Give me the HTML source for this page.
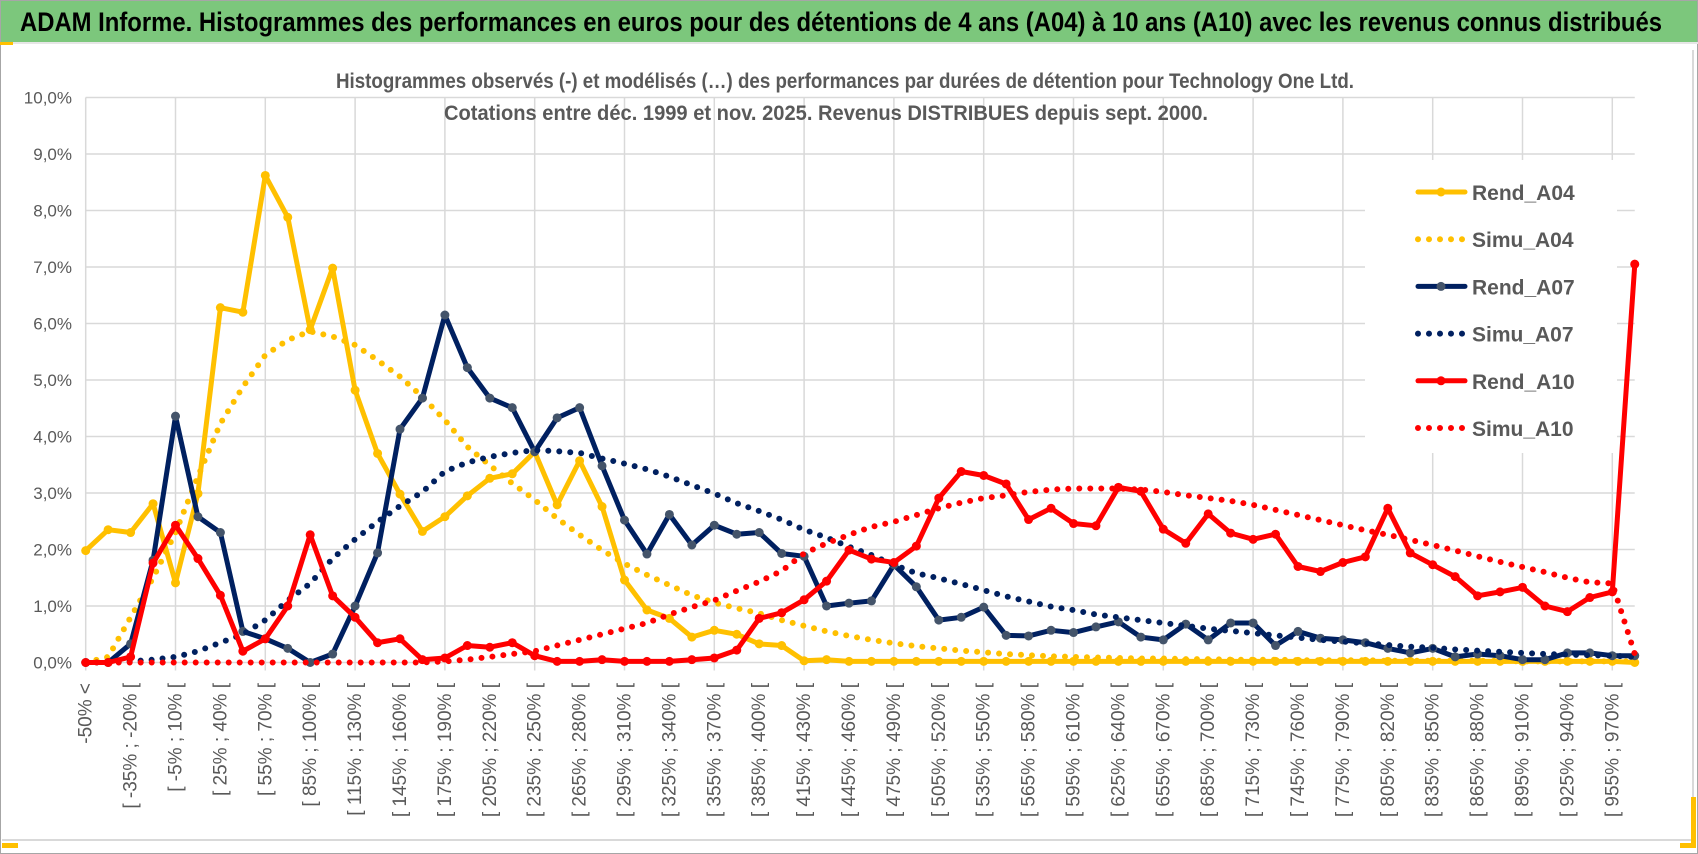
<!DOCTYPE html>
<html><head><meta charset="utf-8"><title>ADAM Informe</title>
<style>
html,body{margin:0;padding:0;background:#fff;}
svg{display:block;}
text{font-family:"Liberation Sans Narrow","Liberation Sans",sans-serif;}
</style></head>
<body>
<svg id="chart" width="1698" height="854" viewBox="0 0 1698 854" xmlns="http://www.w3.org/2000/svg">
  <rect x="0" y="0" width="1698" height="854" fill="#fff"/>
  <rect x="0.5" y="0.5" width="1697" height="853" fill="none" stroke="#a6a6a6"/>
  <rect x="1" y="1" width="1696" height="42" fill="#7cc77c"/>
  <line x1="0" y1="43" x2="1698" y2="43" stroke="#e6e6e6" stroke-width="2"/>
  <rect x="0" y="42" width="13" height="3" fill="#ffc000"/>
  <text x="20" y="31" font-size="27" font-weight="bold" fill="#000" textLength="1642" lengthAdjust="spacingAndGlyphs">ADAM Informe. Histogrammes des performances en euros pour des détentions de 4 ans (A04) à 10 ans (A10) avec les revenus connus distribués</text>
  <line x1="2" y1="840" x2="1693" y2="840" stroke="#d9d9d9" stroke-width="2"/>
  <line x1="1693" y1="50" x2="1693" y2="840" stroke="#d9d9d9" stroke-width="2"/>
  <rect x="2" y="843" width="16" height="5" fill="#ffc000"/>
  <rect x="1680" y="843" width="16" height="5" fill="#ffc000"/>
  <rect x="1691" y="797" width="5" height="50" fill="#ffc000"/>
  <g id="grid"></g>
  <g id="yaxis"></g>
  <g id="xaxis"></g>
  <g id="series"></g>
  <text x="845" y="88" font-size="21" font-weight="bold" fill="#595959" text-anchor="middle" textLength="1018" lengthAdjust="spacingAndGlyphs">Histogrammes observés (-) et modélisés (…) des performances par durées de détention pour Technology One Ltd.</text>
  <text x="826" y="120" font-size="21" font-weight="bold" fill="#595959" text-anchor="middle" textLength="764" lengthAdjust="spacingAndGlyphs">Cotations entre déc. 1999 et nov. 2025. Revenus DISTRIBUES depuis sept. 2000.</text>
  <rect x="1365" y="160" width="252" height="293" fill="#fff"/>
  <g id="legend"></g>
</svg>
<script>
const categories = (function(){ const c=["-50% <"]; for(let k=1;k<=68;k++){const a=-50+15*(k-1); c.push("[ "+a+"% ; "+(a+15)+"% [");} c.push("970% >="); return c; })();
const yTicks = [0,1,2,3,4,5,6,7,8,9,10];
const yTickLabels = ["0,0%","1,0%","2,0%","3,0%","4,0%","5,0%","6,0%","7,0%","8,0%","9,0%","10,0%"];
const seriesNames = ["Rend_A04","Simu_A04","Rend_A07","Simu_A07","Rend_A10","Simu_A10"];
const rendA04 = [1.98,2.35,2.30,2.81,1.41,2.99,6.28,6.20,8.62,7.88,5.89,6.98,4.82,3.70,2.98,2.32,2.58,2.95,3.26,3.34,3.73,2.79,3.57,2.76,1.46,0.93,0.78,0.45,0.57,0.50,0.33,0.30,0.03,0.05,0.02,0.02,0.02,0.02,0.02,0.02,0.02,0.02,0.02,0.02,0.02,0.02,0.02,0.02,0.02,0.02,0.02,0.02,0.02,0.02,0.02,0.02,0.02,0.02,0.02,0.02,0.02,0.02,0.02,0.02,0.02,0.02,0.02,0.02,0.02,0.0];
const simuA04 = [0,0.1,0.8,1.5,2.3,3.29,4.23,4.88,5.44,5.71,5.86,5.77,5.62,5.35,5.06,4.70,4.29,3.82,3.49,3.17,2.88,2.55,2.26,1.99,1.75,1.55,1.37,1.19,1.06,0.96,0.87,0.75,0.65,0.55,0.47,0.40,0.34,0.29,0.25,0.21,0.18,0.15,0.13,0.11,0.10,0.09,0.08,0.07,0.07,0.06,0.06,0.05,0.05,0.05,0.04,0.04,0.04,0.04,0.03,0.03,0.03,0.03,0.03,0.03,0.02,0.02,0.02,0.02,0.02,0.02];
const rendA07 = [0,0,0.33,1.81,4.36,2.58,2.30,0.55,0.42,0.25,0.0,0.15,1.0,1.94,4.13,4.68,6.15,5.22,4.68,4.51,3.73,4.33,4.51,3.48,2.52,1.92,2.62,2.08,2.43,2.27,2.30,1.93,1.88,1.0,1.05,1.09,1.73,1.34,0.75,0.80,0.98,0.48,0.47,0.57,0.53,0.63,0.72,0.45,0.4,0.68,0.4,0.7,0.7,0.3,0.55,0.43,0.4,0.35,0.25,0.17,0.25,0.1,0.15,0.12,0.05,0.05,0.17,0.17,0.12,0.12];
const simuA07 = [0,0,0.02,0.05,0.1,0.2,0.35,0.5,0.75,1.1,1.4,1.84,2.18,2.49,2.77,3.02,3.38,3.54,3.64,3.71,3.76,3.74,3.71,3.61,3.52,3.42,3.29,3.14,2.99,2.82,2.68,2.53,2.35,2.21,2.05,1.90,1.73,1.58,1.49,1.39,1.28,1.17,1.08,0.99,0.93,0.85,0.80,0.75,0.70,0.65,0.60,0.56,0.52,0.48,0.44,0.40,0.37,0.34,0.31,0.28,0.26,0.23,0.21,0.19,0.17,0.15,0.14,0.13,0.12,0.10];
const rendA10 = [0,0,0.1,1.76,2.43,1.84,1.19,0.2,0.42,1.0,2.26,1.18,0.80,0.35,0.42,0.05,0.08,0.3,0.27,0.35,0.12,0.02,0.02,0.05,0.02,0.02,0.02,0.05,0.08,0.22,0.78,0.88,1.11,1.44,1.99,1.83,1.77,2.06,2.91,3.38,3.31,3.16,2.53,2.73,2.46,2.42,3.10,3.03,2.36,2.11,2.63,2.29,2.18,2.27,1.70,1.61,1.77,1.87,2.73,1.94,1.73,1.52,1.18,1.25,1.33,1.0,0.9,1.15,1.25,7.05];
const simuA10 = [0,0,0,0,0,0,0,0,0,0,0,0,0,0,0,0,0.02,0.05,0.1,0.15,0.2,0.3,0.4,0.5,0.6,0.7,0.85,0.98,1.1,1.27,1.43,1.62,1.93,2.11,2.26,2.40,2.49,2.61,2.73,2.83,2.91,2.96,3.02,3.06,3.08,3.08,3.08,3.06,3.02,2.96,2.91,2.86,2.79,2.70,2.61,2.52,2.43,2.34,2.26,2.17,2.08,1.98,1.88,1.78,1.69,1.6,1.5,1.42,1.40,0.15];

const NS="http://www.w3.org/2000/svg";
const X0=85.7, DX=22.45, Y0=662.5, DY=56.5;
function xScale(i){return X0+DX*i;}
function yScale(v){return Y0-DY*v;}
function mk(tag,attrs,parent){const e=document.createElementNS(NS,tag);for(const k in attrs)e.setAttribute(k,attrs[k]);parent.appendChild(e);return e;}

const grid=document.getElementById('grid');
yTicks.forEach((t,i)=>{
  const l=mk('line',{x1:xScale(0),x2:xScale(categories.length-1),y1:yScale(t),y2:yScale(t),stroke:'#d9d9d9','stroke-width':1.5},grid);
  
  
});
for(let i=0;i<categories.length;i+=4){
  const l=mk('line',{x1:xScale(i),x2:xScale(i),y1:yScale(10),y2:Y0+8,stroke:'#d9d9d9','stroke-width':1.5},grid);
  
  
}
const yaxis=document.getElementById('yaxis');
yTicks.forEach((t,i)=>{
  const tx=mk('text',{x:72,y:yScale(t)+6,'font-size':17,fill:'#595959','text-anchor':'end'},yaxis);
  tx.textContent=yTickLabels[i];
  
  
});
const xaxis=document.getElementById('xaxis');
categories.forEach((c,i)=>{
  if(i%2!==0) return;
  const x=xScale(i)+6, y=683;
  const tx=mk('text',{x:x,y:y,'font-size':19,fill:'#595959','text-anchor':'end',transform:'rotate(-90 '+x+' '+y+')'},xaxis);
  tx.textContent=c;
  
  
});

const sg=document.getElementById('series');
function pts(arr){return arr.map((v,i)=>xScale(i).toFixed(1)+','+yScale(v).toFixed(1)).join(' ');}
function solid(arr,color,mfill,name){
  const g=mk('g',{},sg);
  
  
  mk('polyline',{points:pts(arr),fill:'none',stroke:color,'stroke-width':5,'stroke-linejoin':'round'},g);
  arr.forEach((v,i)=>{
    const c=mk('circle',{cx:xScale(i),cy:yScale(v),r:4.5,fill:mfill},g);
    
    
  });
}
function dotted(arr,color,name){
  const p=mk('polyline',{points:pts(arr),fill:'none',stroke:color,'stroke-width':6,'stroke-linecap':'round','stroke-dasharray':'0 11'},sg);
  
  
}
solid(rendA04,'#ffc000','#ffc000','rend-a04-line');
dotted(simuA04,'#ffc000','simu-a04-line');
solid(rendA07,'#002060','#44546a','rend-a07-line');
dotted(simuA07,'#002060','simu-a07-line');
solid(rendA10,'#ff0000','#ff0000','rend-a10-line');
dotted(simuA10,'#ff0000','simu-a10-line');

const lg=document.getElementById('legend');
const lcolors=['#ffc000','#ffc000','#002060','#002060','#ff0000','#ff0000'];
const lmark=['#ffc000',null,'#44546a',null,'#ff0000',null];
seriesNames.forEach((n,k)=>{
  const y=192+47.2*k;
  const g=mk('g',{},lg);
  
  
  if(lmark[k]){
    mk('line',{x1:1418,x2:1465,y1:y,y2:y,stroke:lcolors[k],'stroke-width':5,'stroke-linecap':'round'},g);
    mk('circle',{cx:1441,cy:y,r:4.5,fill:lmark[k]},g);
  } else {
    mk('line',{x1:1418,x2:1465,y1:y,y2:y,stroke:lcolors[k],'stroke-width':6,'stroke-linecap':'round','stroke-dasharray':'0 11'},g);
  }
  const t=mk('text',{x:1472,y:y+8,'font-size':21,'font-weight':'bold',fill:'#595959'},g);
  t.textContent=n;
  
  
});
</script>
</body></html>
